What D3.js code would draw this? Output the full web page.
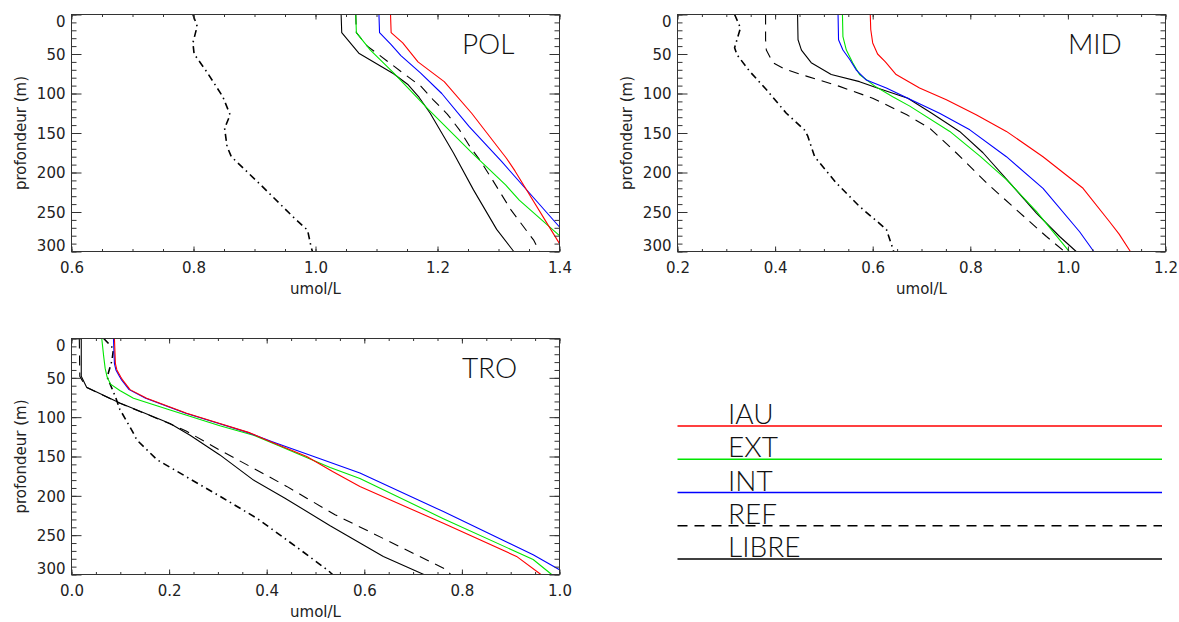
<!DOCTYPE html>
<html><head><meta charset="utf-8">
<script src="https://cdn.jsdelivr.net/npm/d3@7"></script>
<style>body{margin:0;background:#fff}svg{display:block}</style>
</head><body>
<svg id="chart" width="1179" height="622"></svg>
<script>
// ---------- data: [depth (m), value (umol/L)] ----------
const DEPTH_DOMAIN = [0, 300];
const DEPTH_TICKS = [0, 50, 100, 150, 200, 250, 300];
const LEGEND_ITEMS = ["IAU", "EXT", "INT", "REF", "LIBRE"];

const POL_X_DOMAIN = [0.6, 1.4];
const POL_X_TICKS = [0.6, 0.8, 1.0, 1.2, 1.4];
const POL_IAU = [[0,1.123],[23,1.124],[36,1.143],[60,1.168],[85,1.211],[125,1.256],[182,1.313],[198,1.327],[290,1.4],[300,1.41]];
const POL_EXT = [[0,1.066],[23,1.067],[45,1.090],[74,1.128],[120,1.185],[177,1.259],[216,1.312],[235,1.334],[280,1.4],[300,1.427]];
const POL_INT = [[0,1.104],[23,1.105],[38,1.124],[52,1.140],[74,1.172],[100,1.207],[142,1.252],[186,1.305],[269,1.4],[300,1.433]];
const POL_REF = [[0,1.066],[23,1.067],[40,1.085],[61,1.121],[75,1.145],[91,1.173],[108,1.193],[126,1.216],[146,1.236],[167,1.253],[186,1.271],[208,1.289],[228,1.305],[248,1.321],[286,1.358],[300,1.367]];
const POL_LIBRE = [[0,1.042],[23,1.043],[49,1.071],[75,1.128],[89,1.152],[105,1.170],[125,1.188],[175,1.226],[222,1.259],[272,1.297],[294,1.319],[300,1.325]];
const POL_OBS = [[0,0.799],[15,0.806],[36,0.799],[50,0.801],[74,0.823],[104,0.848],[127,0.860],[144,0.851],[167,0.855],[180,0.862],[214,0.908],[256,0.963],[273,0.987],[295,0.993],[300,0.995]];

const MID_X_DOMAIN = [0.2, 1.2];
const MID_X_TICKS = [0.2, 0.4, 0.6, 0.8, 1.0, 1.2];
const MID_IAU = [[0,0.595],[19,0.596],[36,0.600],[50,0.610],[60,0.626],[76,0.648],[93,0.696],[108,0.751],[127,0.812],[148,0.874],[180,0.949],[220,1.031],[262,1.085],[278,1.105],[300,1.128]];
const MID_EXT = [[0,0.538],[28,0.539],[45,0.546],[61,0.559],[76,0.573],[91,0.605],[104,0.641],[116,0.676],[148,0.758],[180,0.821],[209,0.874],[249,0.935],[298,1.0],[300,1.003]];
const MID_INT = [[0,0.529],[32,0.530],[45,0.539],[57,0.553],[70,0.566],[83,0.587],[93,0.628],[106,0.672],[125,0.737],[146,0.799],[180,0.874],[220,0.949],[275,1.024],[300,1.053]];
const MID_REF = [[0,0.3805],[32,0.3805],[45,0.382],[61,0.3955],[69,0.419],[78,0.464],[91,0.532],[106,0.600],[127,0.670],[144,0.717],[175,0.771],[213,0.833],[247,0.894],[281,0.956],[300,0.993]];
const MID_LIBRE = [[0,0.446],[32,0.447],[45,0.454],[61,0.474],[76,0.515],[85,0.573],[94,0.614],[106,0.672],[125,0.721],[148,0.778],[175,0.826],[213,0.881],[251,0.935],[281,0.983],[300,1.017]];
const MID_OBS = [[0,0.317],[17,0.329],[42,0.317],[51,0.322],[72,0.348],[95,0.382],[125,0.423],[146,0.460],[154,0.467],[180,0.481],[213,0.525],[243,0.573],[272,0.628],[294,0.640],[300,0.643]];

const TRO_X_DOMAIN = [0.0, 1.0];
const TRO_X_TICKS = [0.0, 0.2, 0.4, 0.6, 0.8, 1.0];
const TRO_IAU = [[0,0.088],[32,0.090],[40,0.093],[49,0.101],[53,0.105],[65,0.120],[76,0.154],[95,0.236],[108,0.304],[120,0.366],[131,0.407],[150,0.482],[169,0.535],[188,0.591],[235,0.762],[277,0.912],[300,0.962]];
const TRO_EXT = [[0,0.062],[23,0.066],[38,0.069],[49,0.073],[58,0.080],[66,0.099],[76,0.127],[91,0.202],[111,0.304],[123,0.373],[135,0.420],[164,0.530],[178,0.591],[229,0.762],[281,0.946],[300,0.984]];
const TRO_INT = [[0,0.086],[32,0.088],[40,0.091],[49,0.099],[53,0.103],[65,0.118],[76,0.152],[95,0.234],[108,0.302],[120,0.364],[131,0.410],[152,0.505],[171,0.591],[220,0.762],[275,0.946],[294,1.0],[300,1.02]];
const TRO_REF = [[0,0.016],[48,0.017],[62,0.030],[82,0.098],[108,0.200],[118,0.236],[142,0.304],[165,0.373],[188,0.441],[203,0.482],[224,0.540],[294,0.769],[300,0.777]];
const TRO_LIBRE = [[0,0.020],[48,0.020],[62,0.031],[82,0.099],[108,0.202],[123,0.243],[148,0.304],[180,0.373],[203,0.4375],[238,0.530],[277,0.639],[300,0.722]];
const TRO_OBS = [[0,0.066],[13,0.086],[28,0.083],[49,0.073],[74,0.090],[90,0.099],[117,0.124],[129,0.134],[154,0.175],[176,0.236],[203,0.311],[229,0.381],[265,0.461],[295,0.526],[300,0.535]];

// ---------- styles & layout ----------
const STYLE = {
  OBS:   {color:"#000", width:1.6, dash:"7,4,1.5,4"},
  REF:   {color:"#000", width:1.1, dash:"10,7"},
  LIBRE: {color:"#000", width:1.1},
  EXT:   {color:"#00e600", width:1.1},
  INT:   {color:"#0000ff", width:1.1},
  IAU:   {color:"#ff0000", width:1.1}
};
const DRAW_ORDER = ["OBS","REF","LIBRE","EXT","INT","IAU"];
const TICK_FONT = "'DejaVu Sans', sans-serif";
const THIN_FONT = "Lato, 'DejaVu Sans', sans-serif";

const panels = [
  {title:"POL", xDomain:POL_X_DOMAIN, xTicks:POL_X_TICKS, box:[71.5,14.5,559.5,251.5],
   data:{IAU:POL_IAU, EXT:POL_EXT, INT:POL_INT, REF:POL_REF, LIBRE:POL_LIBRE, OBS:POL_OBS}},
  {title:"MID", xDomain:MID_X_DOMAIN, xTicks:MID_X_TICKS, box:[677.5,14.5,1165.5,251.5],
   data:{IAU:MID_IAU, EXT:MID_EXT, INT:MID_INT, REF:MID_REF, LIBRE:MID_LIBRE, OBS:MID_OBS}},
  {title:"TRO", xDomain:TRO_X_DOMAIN, xTicks:TRO_X_TICKS, box:[71.5,338.5,559.5,574.5],
   data:{IAU:TRO_IAU, EXT:TRO_EXT, INT:TRO_INT, REF:TRO_REF, LIBRE:TRO_LIBRE, OBS:TRO_OBS}}
];

const svg = d3.select("#chart");
const defs = svg.append("defs");

function styleAxis(sel){
  sel.select(".domain").remove();
  sel.attr("font-family", TICK_FONT).attr("font-size", 15);
  sel.selectAll(".tick line").attr("stroke", "#333");
  sel.selectAll(".tick text").attr("fill", "#222");
}

function drawPanel(p){
  const [L,T,R,B] = p.box;
  const x = d3.scaleLinear().domain(p.xDomain).range([L,R]);
  const y = d3.scaleLinear().domain(DEPTH_DOMAIN).range([T,B]);
  const g = svg.append("g");
  const clipId = "clip-" + p.title;
  defs.append("clipPath").attr("id", clipId).append("rect")
    .attr("x", L).attr("y", T).attr("width", R-L).attr("height", B-T);

  const line = d3.line().x(d => x(d[1])).y(d => y(d[0]));
  const lg = g.append("g").attr("clip-path", `url(#${clipId})`);
  DRAW_ORDER.forEach(k => {
    const s = STYLE[k];
    lg.append("path").datum(p.data[k]).attr("d", line)
      .attr("fill","none").attr("stroke", s.color).attr("stroke-width", s.width)
      .attr("stroke-dasharray", s.dash || null).attr("stroke-linejoin","round");
  });

  const [x0,x1] = p.xDomain;
  const xMinor = d3.range(0, Math.round((x1-x0)/0.05)+1).map(i => +(x0 + i*0.05).toFixed(3));
  const yMinor = d3.range(0, 301, 10);

  // bottom
  g.append("g").attr("transform", `translate(0,${B})`)
    .call(d3.axisBottom(x).tickValues(xMinor).tickSize(-2.5).tickFormat("")).call(styleAxis);
  g.append("g").attr("transform", `translate(0,${B})`)
    .call(d3.axisBottom(x).tickValues(p.xTicks).tickSize(-5).tickPadding(11).tickFormat(d3.format(".1f"))).call(styleAxis);
  // top
  g.append("g").attr("transform", `translate(0,${T})`)
    .call(d3.axisTop(x).tickValues(xMinor).tickSize(-2.5).tickFormat("")).call(styleAxis);
  g.append("g").attr("transform", `translate(0,${T})`)
    .call(d3.axisTop(x).tickValues(p.xTicks).tickSize(-5).tickFormat("")).call(styleAxis);
  // left
  g.append("g").attr("transform", `translate(${L},0)`)
    .call(d3.axisLeft(y).tickValues(yMinor).tickSize(-5).tickFormat("")).call(styleAxis);
  const left = g.append("g").attr("transform", `translate(${L},0)`)
    .call(d3.axisLeft(y).tickValues(DEPTH_TICKS).tickSize(-10).tickPadding(6).tickFormat(d3.format("d"))).call(styleAxis);
  left.selectAll(".tick text").attr("dy", d => d === DEPTH_DOMAIN[0] ? "0.8em" : d === DEPTH_DOMAIN[1] ? "-0.08em" : "0.36em");
  // right
  g.append("g").attr("transform", `translate(${R},0)`)
    .call(d3.axisRight(y).tickValues(yMinor).tickSize(-5).tickFormat("")).call(styleAxis);
  g.append("g").attr("transform", `translate(${R},0)`)
    .call(d3.axisRight(y).tickValues(DEPTH_TICKS).tickSize(-10).tickFormat("")).call(styleAxis);

  // frame
  g.append("rect").attr("x", L).attr("y", T).attr("width", R-L).attr("height", B-T)
    .attr("fill","none").attr("stroke","#333").attr("stroke-width",1);

  // axis titles
  g.append("text").attr("x", (L+R)/2).attr("y", B+42).attr("text-anchor","middle")
    .attr("font-family", TICK_FONT).attr("font-size", 15).attr("fill","#222").text("umol/L");
  g.append("text").attr("transform", `translate(${L-46},${(T+B)/2}) rotate(-90)`).attr("text-anchor","middle")
    .attr("font-family", TICK_FONT).attr("font-size", 15).attr("fill","#222").text("profondeur (m)");

  // panel title
  g.append("text").attr("x", L + 0.8*(R-L)).attr("y", y(50))
    .attr("font-family", THIN_FONT).attr("font-weight", 300).attr("font-size", 28)
    .attr("fill","#111").text(p.title);
}

panels.forEach(drawPanel);

// legend
const legY = d3.scalePoint().domain(LEGEND_ITEMS).range([426, 559]);
const leg = svg.append("g");
LEGEND_ITEMS.forEach(k => {
  const s = STYLE[k];
  leg.append("line").attr("x1", 677.5).attr("x2", 1162).attr("y1", legY(k)).attr("y2", legY(k))
    .attr("stroke", s.color).attr("stroke-width", 1.3).attr("stroke-dasharray", s.dash || null);
  leg.append("text").attr("x", 728).attr("y", legY(k) - 2)
    .attr("font-family", THIN_FONT).attr("font-weight", 300).attr("font-size", 28)
    .attr("fill","#111").text(k);
});
</script>
</body></html>
